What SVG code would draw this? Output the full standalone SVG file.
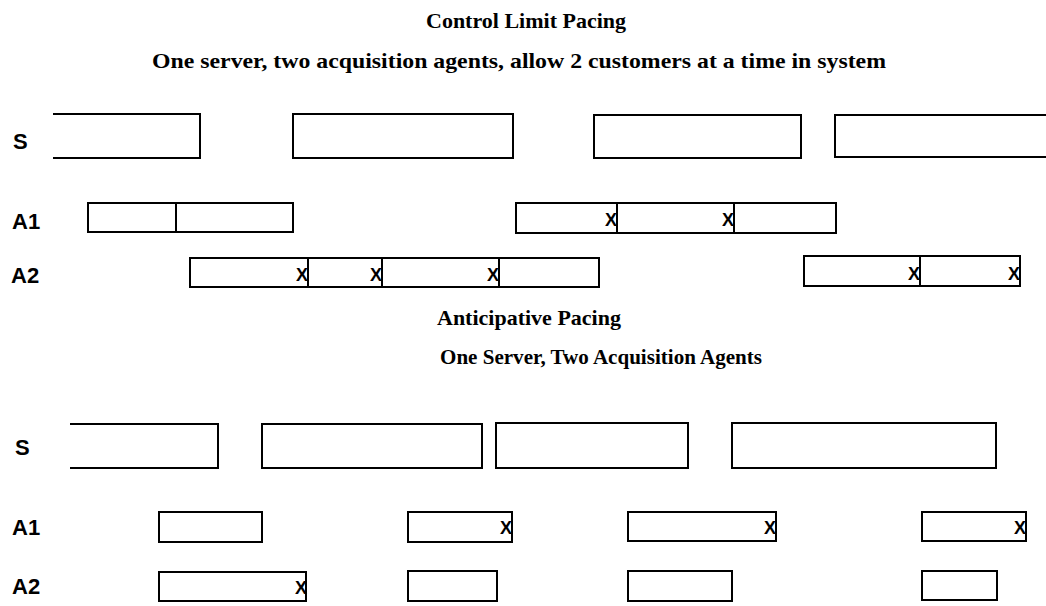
<svg xmlns="http://www.w3.org/2000/svg" width="1046" height="606" viewBox="0 0 1046 606">
<style>
.t{font-family:"Liberation Serif","Times New Roman",serif;font-weight:bold;font-size:22px;fill:#000}
.l{font-family:"Liberation Sans",Arial,sans-serif;font-weight:bold;font-size:22px;fill:#000}
.x{font-family:"Liberation Sans",Arial,sans-serif;font-weight:bold;font-size:18px;fill:#000;text-anchor:end}
.b{fill:none;stroke:#000;stroke-width:2}
</style>
<rect width="1046" height="606" fill="#fff"/>
<g id="titles">
<text class="t" x="426" y="28">Control Limit Pacing</text>
<text class="t" x="152" y="68" textLength="734" lengthAdjust="spacingAndGlyphs">One server, two acquisition agents, allow 2 customers at a time in system</text>
<text class="t" x="437" y="325">Anticipative Pacing</text>
<text class="t" x="440" y="364" textLength="322" lengthAdjust="spacingAndGlyphs">One Server, Two Acquisition Agents</text>
</g>
<g id="labels">
<text class="l" x="13" y="149">S</text>
<text class="l" x="12" y="229">A1</text>
<text class="l" x="11" y="283">A2</text>
<text class="l" x="15" y="455">S</text>
<text class="l" x="12" y="535">A1</text>
<text class="l" x="12" y="594">A2</text>
</g>
<g id="connectors"/>
<g id="top-S">
<path class="b" d="M53,114 H200 V158 H53"/>
<rect class="b" x="293" y="114" width="220" height="44"/>
<rect class="b" x="594" y="115" width="207" height="43"/>
<path class="b" d="M1046,115 H835 V157 H1046"/>
</g>
<g id="top-A1-1">
<rect class="b" x="88" y="203" width="205" height="29"/>
<line class="b" x1="176" y1="203" x2="176" y2="232"/>
</g>
<g id="top-A1-2">
<rect class="b" x="516" y="203" width="320" height="30"/>
<line class="b" x1="617" y1="203" x2="617" y2="233"/>
<line class="b" x1="734" y1="203" x2="734" y2="233"/>
<text class="x" x="617" y="226">X</text>
<text class="x" x="734" y="226">X</text>
</g>
<g id="top-A2-1">
<rect class="b" x="190" y="258" width="409" height="29"/>
<line class="b" x1="308" y1="258" x2="308" y2="287"/>
<line class="b" x1="382" y1="258" x2="382" y2="287"/>
<line class="b" x1="499" y1="258" x2="499" y2="287"/>
<text class="x" x="308" y="281">X</text>
<text class="x" x="382" y="281">X</text>
<text class="x" x="499" y="281">X</text>
</g>
<g id="top-A2-2">
<rect class="b" x="804" y="256" width="216" height="30"/>
<line class="b" x1="920" y1="256" x2="920" y2="286"/>
<text class="x" x="920" y="280">X</text>
<text class="x" x="1020" y="280">X</text>
</g>
<g id="bottom-S">
<path class="b" d="M70,424 H218 V468 H70"/>
<rect class="b" x="262" y="424" width="220" height="44"/>
<rect class="b" x="496" y="423" width="192" height="45"/>
<rect class="b" x="732" y="423" width="264" height="45"/>
</g>
<g id="bottom-A1">
<rect class="b" x="159" y="512" width="103" height="30"/>
<rect class="b" x="408" y="512" width="104" height="30"/>
<rect class="b" x="628" y="512" width="148" height="29"/>
<rect class="b" x="922" y="512" width="104" height="29"/>
<text class="x" x="512" y="534">X</text>
<text class="x" x="776" y="534">X</text>
<text class="x" x="1026" y="534">X</text>
</g>
<g id="bottom-A2">
<rect class="b" x="159" y="572" width="147" height="29"/>
<rect class="b" x="408" y="571" width="89" height="30"/>
<rect class="b" x="628" y="571" width="104" height="30"/>
<rect class="b" x="922" y="571" width="75" height="29"/>
<text class="x" x="307" y="594">X</text>
</g>
</svg>
